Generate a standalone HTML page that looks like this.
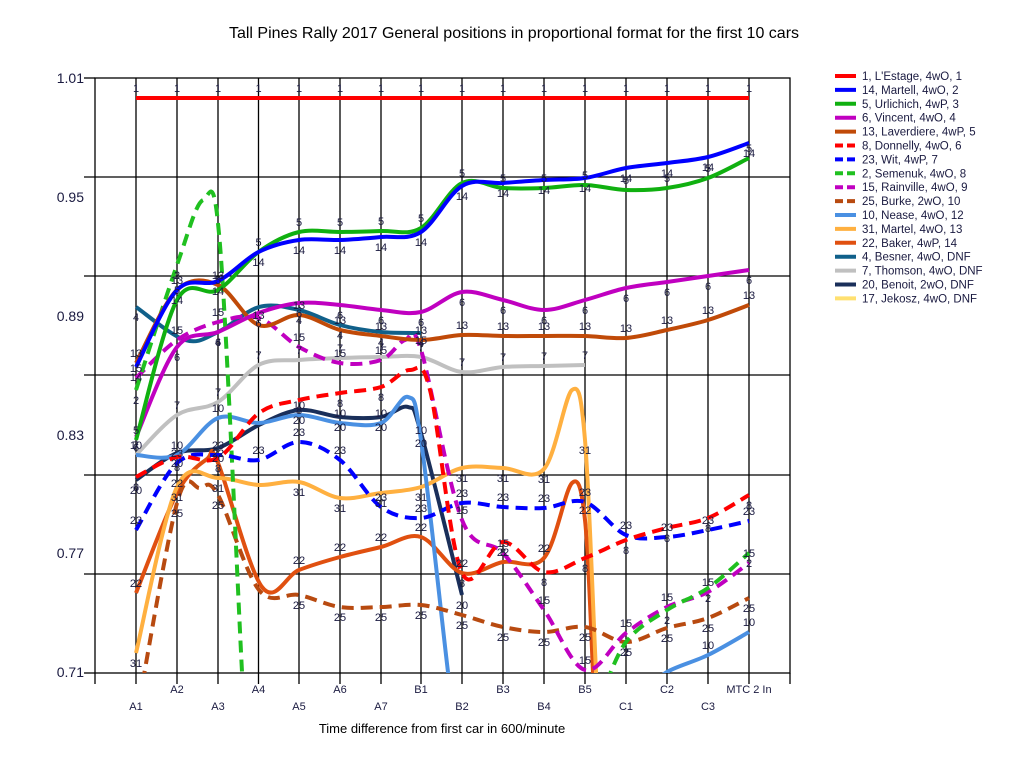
<!DOCTYPE html>
<html><head><meta charset="utf-8"><style>
body{margin:0;background:#fff;}
svg{display:block;font-family:"Liberation Sans",Arial,sans-serif;}
</style></head><body>
<svg id="c" width="1024" height="768" viewBox="0 0 1024 768" xmlns="http://www.w3.org/2000/svg">
<rect width="1024" height="768" fill="#fff"/>
<text x="514" y="38" font-size="16" text-anchor="middle">Tall Pines Rally 2017  General positions in proportional format for the first 10 cars</text>
<g font-size="14" fill="#1a1a40" text-anchor="end">
<text x="84" y="83">1.01</text><text x="84" y="202">0.95</text><text x="84" y="321">0.89</text>
<text x="84" y="440">0.83</text><text x="84" y="558">0.77</text><text x="84" y="677">0.71</text>
</g>
<g stroke="#000" stroke-width="1.3" fill="none" id="grid"></g>
<defs><clipPath id="pc"><rect x="95" y="78" width="695" height="595"/></clipPath></defs>
<g id="series" clip-path="url(#pc)" fill="none"></g>
<g id="labels" font-size="11" fill="#1a1a40" text-anchor="middle"></g>
<g font-size="11" fill="#1a1a40" text-anchor="middle" id="xl"></g>
<text x="442" y="733" font-size="13" text-anchor="middle">Time difference from first car in 600/minute</text>
<g id="legend" font-size="11.5" fill="#1a1a40"></g>
</svg>
<script>
var NS="http://www.w3.org/2000/svg";
function el(t,a,p,txt){var e=document.createElementNS(NS,t);for(var k in a)e.setAttribute(k,a[k]);if(txt!=null)e.textContent=txt;p.appendChild(e);return e;}
var X=[136,177,218,258.5,299,340,381,421,462,503,544,585,626,667,708,749];
var g=document.getElementById('grid');
[177,276,375,475,574].forEach(function(y){el('line',{x1:84,x2:790,y1:y,y2:y},g);});
el('line',{x1:84,x2:95,y1:78,y2:78},g);el('line',{x1:84,x2:95,y1:673,y2:673},g);
el('rect',{x:95,y:78,width:695,height:595},g);
X.forEach(function(x){el('line',{x1:x,x2:x,y1:78,y2:684},g);});
el('line',{x1:95,x2:95,y1:673,y2:684},g);el('line',{x1:790,x2:790,y1:673,y2:684},g);
var names=["A1","A2","A3","A4","A5","A6","A7","B1","B2","B3","B4","B5","C1","C2","C3","MTC 2 In"];
var xl=document.getElementById('xl');
names.forEach(function(n,i){el('text',{x:X[i],y:(i%2==0&&i<15)?710:693},xl,n);});
function P(ys){return ys.map(function(y,i){return [X[i],y];});}
var S=[
["1, L'Estage, 4wO, 1","#ff0000",0,"1",[P([98,98,98,98,98,98,98,98,98,98,98,98,98,98,98,98])]],
["14, Martell, 4wO, 2","#0000ff",0,"14",[P([367,290,281,252,240,240,237,232,186,183,180,178,168,163,157,143])]],
["5, Urlichich, 4wP, 3","#10b010",0,"5",[P([440,300,290,252,232,232,231,228,183,188,188,185,190,188,178,158])]],
["6, Vincent, 4wO, 4","#c000c0",0,"6",[P([437,347,332,313,303,305,310,312,292,300,310,300,288,282,276,270])]],
["13, Laverdiere, 4wP, 5","#c04a08",0,"13",[P([363,290,285,325,315,330,336,340,335,336,336,336,338,330,320,305])]],
["8, Donnelly, 4wO, 6","#ff0000",1,"8",[[[136,477],[177,457],[218,458],[259,413],[299,400],[340,393],[381,387],[410,370],[430,390],[462,573],[503,542],[544,572],[585,558],[626,540],[667,528],[708,518],[749,495]]]],
["23, Wit, 4wP, 7","#0000ff",1,"23",[P([530,463,455,460,442,460,507,518,503,507,508,502,535,537,530,521])]],
["2, Semenuk, 4wO, 8","#20c020",1,"2",[[[136,390],[177,265],[203,200],[220,245],[242,672],[246,740]],[[600,700],[626,642],[667,610],[708,588],[749,553]]]],
["15, Rainville, 4wO, 9","#c000c0",1,"15",[[[136,378],[177,340],[218,322],[259,318],[299,347],[340,363],[381,360],[405,340],[421,350],[462,520],[503,553],[544,610],[585,670],[626,633],[667,607],[708,592],[749,563]]]],
["25, Burke, 2wO, 10","#b84a10",1,"25",[[[136,720],[177,503],[200,488],[218,495],[259,590],[299,595],[340,607],[381,607],[421,605],[462,615],[503,627],[544,632],[585,627],[626,642],[667,628],[708,618],[749,598]]]],
["10, Nease, 4wO, 12","#4a90e2",0,"10",[[[136,455],[177,455],[218,418],[259,423],[299,415],[340,423],[381,423],[408,397],[421,440],[448,672],[455,720]],[[650,690],[667,672],[708,655],[749,632]]]],
["31, Martel, 4wO, 13","#ffb040",0,"31",[[[136,653],[177,487],[218,478],[259,485],[299,482],[340,498],[381,493],[421,487],[462,468],[503,468],[544,469],[572,390],[585,440],[596,672],[600,740]]]],
["22, Baker, 4wP, 14","#e05010",0,"22",[[[136,593],[177,493],[207,459],[218,463],[262,587],[299,570],[340,557],[381,547],[421,537],[462,573],[503,562],[544,558],[572,483],[585,520],[593,672],[596,740]]]],
["4, Besner, 4wO, DNF","#10608a",0,"4",[[[136,307],[185,340],[218,332],[259,307],[299,310],[340,325],[381,332],[421,333]]]],
["7, Thomson, 4wO, DNF","#c0c0c0",0,"7",[P([455,415,402,365,360,358,357,357,372,367,366,365])]],
["20, Benoit, 2wO, DNF","#1a2f5a",0,"20",[[[136,480],[177,453],[218,448],[259,425],[299,410],[340,417],[381,417],[408,407],[421,433],[462,595]]]],
["17, Jekosz, 4wO, DNF","#ffe070",0,"17",[]]
];
function path(pts){var d="M"+pts[0][0]+","+pts[0][1];for(var i=0;i<pts.length-1;i++){var p0=pts[i-1]||pts[i],p1=pts[i],p2=pts[i+1],p3=pts[i+2]||p2;
var c1=[p1[0]+(p2[0]-p0[0])/6,p1[1]+(p2[1]-p0[1])/6],c2=[p2[0]-(p3[0]-p1[0])/6,p2[1]-(p3[1]-p1[1])/6];
d+=" C"+c1[0].toFixed(1)+","+c1[1].toFixed(1)+" "+c2[0].toFixed(1)+","+c2[1].toFixed(1)+" "+p2[0]+","+p2[1];}return d;}
var sg=document.getElementById('series'),lg=document.getElementById('labels'),leg=document.getElementById('legend');
for(var k=S.length-1;k>=0;k--){var s=S[k];s[4].forEach(function(pts){
var a={d:path(pts),stroke:s[1],"stroke-width":4,"stroke-linejoin":"round"};if(s[2])a["stroke-dasharray"]="12 7";el('path',a,sg);
pts.forEach(function(p){if(X.indexOf(p[0])>=0&&p[1]<672&&p[1]>=78){el('text',{x:p[0],y:p[1]-(k%2?-14:6)},lg,s[3]);}});});}
S.forEach(function(s,i){var y=76+i*13.9;var a={x1:835,x2:856,y1:y,y2:y,stroke:s[1],"stroke-width":4};if(s[2])a["stroke-dasharray"]="8 4";el('line',a,leg);
el('text',{x:862,y:y+4},leg,s[0]);});
</script>
</body></html>
